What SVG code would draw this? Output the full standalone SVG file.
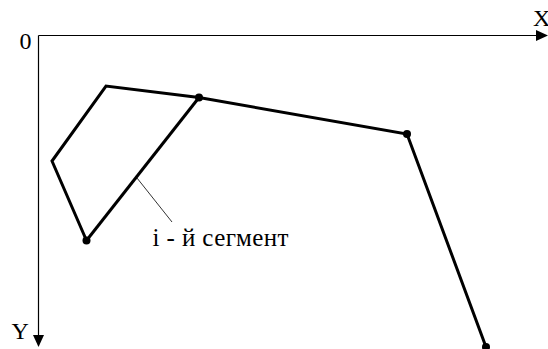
<svg xmlns="http://www.w3.org/2000/svg" width="548" height="349" viewBox="0 0 548 349">
<style>
.axis{stroke:#000;stroke-width:1.2;fill:none}
.poly{stroke:#000;stroke-width:3;fill:none;stroke-linejoin:miter}
.dot{fill:#000}
.t{font-family:'Times New Roman','Liberation Serif','DejaVu Serif',serif;fill:#000}
</style>
<rect width="548" height="349" fill="#fff"/>
<g id="axes">
<line class="axis" x1="38.5" y1="35.5" x2="538" y2="35.5"/>
<polygon points="548,35.5 536,30 536,41" fill="#000"/>
<line class="axis" x1="38.5" y1="35.5" x2="38.5" y2="337"/>
<polygon points="38.5,347 33,335 44,335" fill="#000"/>
<text class="t" x="19.5" y="48.5" font-size="24">0</text>
<text class="t" x="533" y="25.5" font-size="24">X</text>
<text class="t" x="11.5" y="338.5" font-size="24">Y</text>
</g>
<g id="connectors">
<polyline class="poly" points="86.5,240.5 52,161 106,86 199,97.5 407,134 486,347"/>
<line class="poly" x1="86.5" y1="240.5" x2="199" y2="97.5"/>
<line x1="137" y1="178" x2="172" y2="222" stroke="#333" stroke-width="1"/>
</g>
<g id="points">
<circle class="dot" cx="86.5" cy="240.5" r="4"/>
<circle class="dot" cx="199" cy="97.5" r="4"/>
<circle class="dot" cx="407" cy="134" r="4"/>
<circle class="dot" cx="486" cy="347" r="4"/>
</g>
<g id="label">
<text class="t" x="152.5" y="245.5" font-size="25" textLength="136" lengthAdjust="spacing">i - й сегмент</text>
</g>
</svg>
